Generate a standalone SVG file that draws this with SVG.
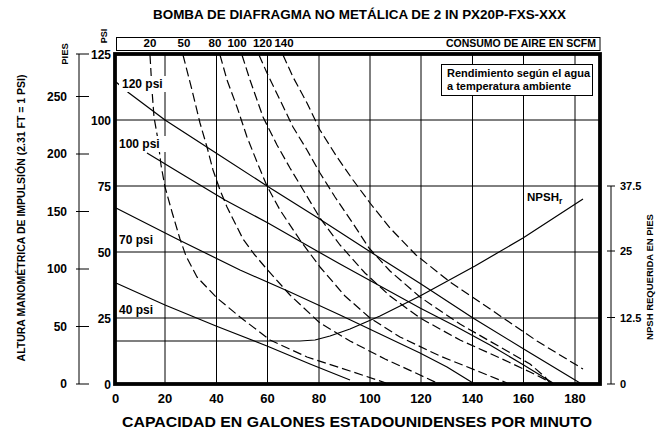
<svg xmlns="http://www.w3.org/2000/svg" width="666" height="432" viewBox="0 0 666 432">
<style>
text{font-family:"Liberation Sans",Arial,Helvetica,sans-serif;font-weight:bold;fill:#000}
.grid{stroke:#000;stroke-width:1;fill:none}
.psi{stroke:#000;stroke-width:1.2;fill:none;stroke-linejoin:round}
.air{stroke:#000;stroke-width:1.2;fill:none;stroke-dasharray:9 4;stroke-linejoin:round}
.ax{stroke:#000;stroke-width:1;fill:none}
.tk{font-size:12px}
.tkr{font-size:11px}
.bx{font-size:13px}
.top{font-size:11.5px}
.lbl{font-size:12px}
.bg{fill:#fff}
</style>
<rect width="666" height="432" fill="#fff"/>
<text x="359.5" y="18.5" text-anchor="middle" font-size="12.5" textLength="413" lengthAdjust="spacingAndGlyphs">BOMBA DE DIAFRAGMA NO METÁLICA DE 2 IN PX20P-FXS-XXX</text>

<g id="air-box">
<rect x="116.5" y="37.5" width="483.5" height="13" fill="#fff" stroke="#000" stroke-width="1"/>
<text class="top" x="150" y="47" text-anchor="middle">20</text>
<text class="top" x="184" y="47" text-anchor="middle">50</text>
<text class="top" x="215" y="47" text-anchor="middle">80</text>
<text class="top" x="237" y="47" text-anchor="middle">100</text>
<text class="top" x="262.5" y="47" text-anchor="middle">120</text>
<text class="top" x="284" y="47" text-anchor="middle">140</text>
<text x="596" y="47" text-anchor="end" font-size="10.5">CONSUMO DE AIRE EN SCFM</text>
</g>

<g id="grid" class="grid">
<path d="M165,54V384M216.5,54V384M267.5,54V384M319,54V384M370,54V384M421,54V384M472.5,54V384M523.5,54V384M575,54V384"/>
<path d="M115,120H600M115,186H600M115,252H600M115,318H600"/>
</g>

<g id="connectors">
<g id="air-curves" class="air">
<polyline id="scfm20" points="150,55 152,90 154,117 158,140 161,165 165,187 172,212 180,239 186,256 197,277 217,298 240,317 270,340 307,357 350,371 386,383"/>
<polyline id="scfm50" points="183,55 192,90 200,123 207,147 213,170 220,190 227,207 237,227 243,239 254,254 265,267 290,295 320,323 350,341 385,359 420,375 437,383"/>
<polyline id="scfm80" points="220,55 227,80 237,107 247,137 257,162 267,186 280,210 300,240 320,267 345,296 370,318 400,337 440,356 480,372 507,383"/>
<polyline id="scfm100" points="242,55 250,80 263,117 277,145 290,168 305,193 320,218 340,245 365,273 390,296 420,318 460,340 500,358 530,372 552,383"/>
<polyline id="scfm120" points="259,55 267,73 280,100 293,127 307,150 320,173 335,197 352,222 369,248 390,271 420,297 460,324 500,347 530,364 545,377 550,383"/>
<polyline id="scfm140" points="283,55 293,77 307,103 320,130 337,157 353,180 370,203 390,228 416,255 450,282 493,311 537,341 583,369"/>
</g>
<g id="psi-curves" class="psi">
<polyline id="psi120" points="116,82 129,93 165,120 216,153 267,186 318,218 369,251 421,284 473,318 527,351 580,383"/>
<polyline id="psi100" points="147,153 185,176 225,200 268,223 317,251 340,264 380,286 420,308 455,326 490,345 522,364 553,383"/>
<polyline id="psi70" points="116,208 177,239 240,270 290,292 340,315 380,334 420,353 447,367 473,383"/>
<polyline id="psi40" points="116,283 165,305 216,326 267,346 310,364 350,380"/>
<polyline id="npsh" points="116,341 300,341 315,340 330,336 350,329 380,316 420,296 475,266 523,238 583,199"/>
</g>
</g>

<g id="psi-labels">
<rect class="bg" x="119" y="76" width="49" height="16"/>
<text class="lbl" x="122" y="88">120 psi</text>
<rect class="bg" x="118" y="136" width="50" height="16"/>
<text class="lbl" x="119" y="148">100 psi</text>
<rect class="bg" x="118" y="233" width="40" height="15"/>
<text class="lbl" x="119" y="244">70 psi</text>
<rect class="bg" x="118" y="303" width="40" height="14"/>
<text class="lbl" x="119" y="314">40 psi</text>
</g>

<g id="npsh-label">
<text x="527" y="200.5" font-size="11.5">NPSH<tspan font-size="8.5" dy="3">r</tspan></text>
</g>

<g id="legend">
<rect x="441.5" y="64.5" width="151" height="31" fill="#fff" stroke="#000" stroke-width="1"/>
<text x="447" y="77" font-size="11">Rendimiento según el agua</text>
<text x="447" y="90" font-size="11">a temperatura ambiente</text>
</g>

<g id="frame">
<rect x="115" y="54" width="485" height="330" fill="none" stroke="#000" stroke-width="3.8"/>
</g>

<g id="left-psi-axis">
<text class="tk" x="111" y="59" text-anchor="end">125</text>
<text class="tk" x="111" y="124.5" text-anchor="end">100</text>
<text class="tk" x="111" y="190.5" text-anchor="end">75</text>
<text class="tk" x="111" y="256.5" text-anchor="end">50</text>
<text class="tk" x="111" y="322.5" text-anchor="end">25</text>
<text class="tk" x="111" y="388.5" text-anchor="end">0</text>
</g>

<g id="pies-axis">
<path class="ax" d="M79,54V384M76,54H89M76,96.5H89M76,154H89M76,211.5H89M76,269H89M76,326.5H89M76,384H89"/>
<text class="tk" x="67" y="100.5" text-anchor="end">250</text>
<text class="tk" x="67" y="158" text-anchor="end">200</text>
<text class="tk" x="67" y="215.5" text-anchor="end">150</text>
<text class="tk" x="67" y="273" text-anchor="end">100</text>
<text class="tk" x="67" y="330.5" text-anchor="end">50</text>
<text class="tk" x="67" y="388" text-anchor="end">0</text>
<text transform="translate(68,54) rotate(-90)" text-anchor="middle" font-size="9.5">PIES</text>
<text transform="translate(106.5,36) rotate(-90)" text-anchor="middle" font-size="9">PSI</text>
<text transform="translate(24.5,218) rotate(-90)" text-anchor="middle" font-size="10.5">ALTURA MANOMÉTRICA DE IMPULSIÓN (2.31 FT = 1 PSI)</text>
</g>

<g id="npsh-axis">
<path class="ax" d="M611,186V384M607,186H615M607,251H615M607,317.5H615M607,384H615"/>
<text class="tkr" x="620" y="189.5">37.5</text>
<text class="tkr" x="620" y="255">25</text>
<text class="tkr" x="620" y="321.5">12.5</text>
<text class="tkr" x="620" y="388">0</text>
<text transform="translate(653,277) rotate(-90)" text-anchor="middle" font-size="9.5">NPSH REQUERIDA EN PIES</text>
</g>

<g id="x-axis">
<text class="bx" x="115.5" y="403" text-anchor="middle">0</text>
<text class="bx" x="165" y="403" text-anchor="middle">20</text>
<text class="bx" x="216.5" y="403" text-anchor="middle">40</text>
<text class="bx" x="267.5" y="403" text-anchor="middle">60</text>
<text class="bx" x="319" y="403" text-anchor="middle">80</text>
<text class="bx" x="370" y="403" text-anchor="middle">100</text>
<text class="bx" x="421" y="403" text-anchor="middle">120</text>
<text class="bx" x="472.5" y="403" text-anchor="middle">140</text>
<text class="bx" x="523.5" y="403" text-anchor="middle">160</text>
<text class="bx" x="575" y="403" text-anchor="middle">180</text>
<text x="357" y="427" text-anchor="middle" font-size="15" textLength="470" lengthAdjust="spacingAndGlyphs">CAPACIDAD EN GALONES ESTADOUNIDENSES POR MINUTO</text>
</g>
</svg>
